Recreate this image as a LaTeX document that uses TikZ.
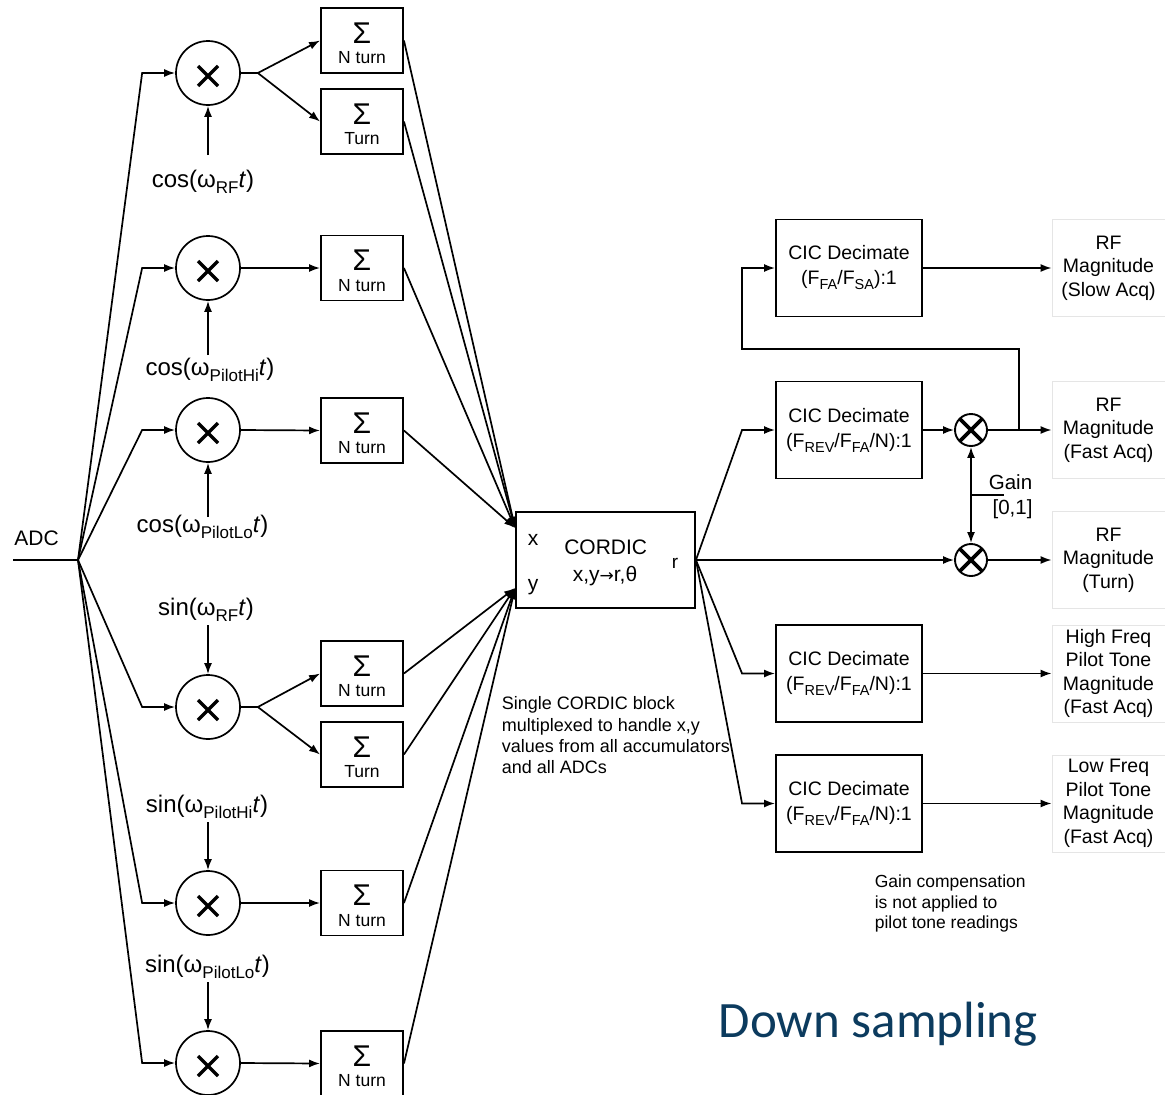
\documentclass[tikz,border=0pt]{standalone}
\usepackage{fontspec}
\setmainfont{Liberation Sans}
\newfontfamily\dsfont{Carlito}
\newfontfamily\arrfont{DejaVu Sans}
\usetikzlibrary{arrows.meta,calc}
\definecolor{dsblue}{RGB}{12,59,94}
\newcommand\sbl[1]{\raisebox{-6pt}{\fontsize{17}{17}\selectfont #1}}
\newcommand\sbs[1]{\raisebox{-5pt}{\fontsize{14.5}{14.5}\selectfont #1}}
\newcommand\sumblk[3]{%
  \node[sumbox] (#1) at (362,#2) {};
  \node[sig] (#1g) at (362,#2-7.5) {Σ};
  \node[sumlab] (#1t) at (362,#2+17.5) {#3};}
\begin{document}
\begin{tikzpicture}[x=1pt,y=-1pt,line width=1.7pt,
  >={Latex[length=11pt,width=8pt]},
  mult/.style={circle,draw,line width=1.7pt,minimum size=64pt,inner sep=0,
    path picture={\draw[line width=3.4pt]
      ([shift={(-10pt,-13pt)}]path picture bounding box.center) -- ([shift={(10pt,7pt)}]path picture bounding box.center)
      ([shift={(-10pt,7pt)}]path picture bounding box.center) -- ([shift={(10pt,-13pt)}]path picture bounding box.center);}},
  smult/.style={circle,draw,line width=1.9pt,minimum size=32pt,inner sep=0,
    path picture={\draw[line width=3.6pt]
      ([shift={(-11pt,-11pt)}]path picture bounding box.center) -- ([shift={(11pt,11pt)}]path picture bounding box.center)
      ([shift={(-11pt,11pt)}]path picture bounding box.center) -- ([shift={(11pt,-11pt)}]path picture bounding box.center);}},
  sumbox/.style={draw,line width=1.9pt,minimum width=82pt,minimum height=65pt,inner sep=0},
  sig/.style={font=\fontsize{30}{30}\selectfont,inner sep=0},
  sumlab/.style={font=\fontsize{17.5}{17.5}\selectfont,inner sep=0},
  lbl/.style={font=\fontsize{24}{24}\selectfont,inner sep=0,anchor=base},
  txt/.style={font=\fontsize{21}{21}\selectfont,inner sep=0,anchor=base},
  cbox/.style={draw,line width=1.9pt,inner sep=0},
  cic/.style={draw,line width=1.9pt,minimum width=146pt,minimum height=97pt,align=center,
    font=\fontsize{19.5}{25}\selectfont,inner sep=0},
  outlab/.style={draw=black!10,line width=0.8pt,minimum width=113pt,minimum height=97pt,align=center,
    font=\fontsize{19.5}{23.5}\selectfont,inner sep=0},
  note/.style={align=left,font=\fontsize{18}{21.3}\selectfont,inner sep=0,anchor=north west},
  notetwo/.style={align=left,font=\fontsize{17.5}{20.7}\selectfont,inner sep=0,anchor=north west}]
\useasboundingbox (0,0) rectangle (1165,1095);

% ADC input
\node[txt] (adc) at (36.5,545) {ADC};
\coordinate (adcin) at (13,560);
\coordinate (br) at (78,560);
\draw (adcin) -- (br);

% multipliers
\node[mult] (m1) at (208,73) {};
\node[mult] (m2) at (208,268) {};
\node[mult] (m3) at (208,430) {};
\node[mult] (m4) at (208,707) {};
\node[mult] (m5) at (208,903) {};
\node[mult] (m6) at (208,1063) {};

% oscillator labels
\node[lbl] (c1) at (203,187) {cos(ω\sbl{RF}\textit{t})};
\node[lbl] (c2) at (210,375) {cos(ω\sbl{PilotHi}\textit{t})};
\node[lbl] (c3) at (202.5,532) {cos(ω\sbl{PilotLo}\textit{t})};
\node[lbl] (c4) at (206,615) {sin(ω\sbl{RF}\textit{t})};
\node[lbl] (c5) at (207,812) {sin(ω\sbl{PilotHi}\textit{t})};
\node[lbl] (c6) at (207.5,972) {sin(ω\sbl{PilotLo}\textit{t})};
\coordinate (a1) at (208,155);
\coordinate (a2) at (208,355);
\coordinate (a3) at (208,517);
\coordinate (a4) at (208,625);
\coordinate (a5) at (208,822);
\coordinate (a6) at (208,982);
\draw[->] (a1) -- (m1.south);
\draw[->] (a2) -- (m2.south);
\draw[->] (a3) -- (m3.south);
\draw[->] (a4) -- (m4.north);
\draw[->] (a5) -- (m5.north);
\draw[->] (a6) -- (m6.north);

% accumulators
\sumblk{s1}{40.5}{N turn}
\sumblk{s2}{121.5}{Turn}
\sumblk{s3}{268}{N turn}
\sumblk{s4}{430.5}{N turn}
\sumblk{s5}{673.5}{N turn}
\sumblk{s6}{754.5}{Turn}
\sumblk{s7}{903}{N turn}
\sumblk{s8}{1063.5}{N turn}

% ADC fan-out
\foreach \m in {m1,m2,m3,m4,m5,m6}
  \draw[->] (br) -- ([xshift=-33pt]\m.west) -- (\m.west);

% multiplier outputs
\draw (m1.east) -- ++(17,0) coordinate (f1);
\draw[->] (f1) -- (s1.west);
\draw[->] (f1) -- (s2.west);
\draw[->] (m2.east) -- (s3.west);
\draw[->] (m3.east) -- (s4.west);
\draw (m4.east) -- ++(17,0) coordinate (f4);
\draw[->] (f4) -- (s5.west);
\draw[->] (f4) -- (s6.west);
\draw[->] (m5.east) -- (s7.west);
\draw[->] (m6.east) -- (s8.west);

% CORDIC
\node[cbox,minimum width=179pt,minimum height=96pt] (cord) at (605.5,560) {};
\node[txt] (cordA) at (605.7,554) {CORDIC};
\node[txt] (cordB) at (605,581) {x,y{\arrfont\fontsize{17}{17}\selectfont →}r,θ};
\node[txt] (px) at (533,545) {x};
\node[txt] (py) at (533,590) {y};
\node[txt,font=\fontsize{19}{19}\selectfont] (pr) at (675,568) {r};
\coordinate (xin) at ([yshift=32pt]cord.west);
\coordinate (yin) at ([yshift=-28pt]cord.west);
\foreach \s in {s1,s2,s3,s4} \draw[->] (\s.east) -- (xin);
\foreach \s in {s5,s6,s7,s8} \draw[->] (\s.east) -- (yin);

\node[note] (n1) at (501,696) {Single CORDIC block\\multiplexed to handle x,y\\values from all accumulators\\and all ADCs};

% decimators
\node[cic] (k1) at (849,268) {CIC Decimate\\(F\sbs{FA}/F\sbs{SA}):1};
\node[cic] (k2) at (849,430) {CIC Decimate\\(F\sbs{REV}/F\sbs{FA}/N):1};
\node[cic] (k4) at (849,673.5) {CIC Decimate\\(F\sbs{REV}/F\sbs{FA}/N):1};
\node[cic] (k5) at (849,803.5) {CIC Decimate\\(F\sbs{REV}/F\sbs{FA}/N):1};
\node[smult] (x1) at (971,430) {};
\node[smult] (x2) at (971,560) {};

% outputs
\node[outlab] (o1) at (1108.5,268) {RF\\Magnitude\\(Slow Acq)};
\node[outlab] (o2) at (1108.5,430) {RF\\Magnitude\\(Fast Acq)};
\node[outlab] (o3) at (1108.5,560) {RF\\Magnitude\\(Turn)};
\node[outlab] (o4) at (1108.5,673.5) {High Freq\\Pilot Tone\\Magnitude\\(Fast Acq)};
\node[outlab] (o5) at (1108.5,803.5) {Low Freq\\Pilot Tone\\Magnitude\\(Fast Acq)};

% CORDIC outputs
\draw[->] (cord.east) -- ([xshift=-33pt]k2.west) -- (k2.west);
\draw[->] (cord.east) -- (x2.west);
\draw[->] (cord.east) -- ([xshift=-33pt]k4.west) -- (k4.west);
\draw[->] (cord.east) -- ([xshift=-33pt]k5.west) -- (k5.west);
\draw[->] (k2.east) -- (x1.west);
\draw[->] (x1.east) -- (o2.west);
\coordinate (fb) at (1019,430);
\draw[->] (fb) |- ([xshift=-33pt,yshift=-81pt]k1.west) -- ([xshift=-33pt]k1.west) -- (k1.west);
\draw[->] (k1.east) -- (o1.west);
\draw[->] (x2.east) -- (o3.west);
\draw[->] (k4.east) -- (o4.west);
\draw[->] (k5.east) -- (o5.west);

% gain
\draw[<->] (x1.south) -- (x2.north);
\coordinate (gm) at ($(x1)!0.5!(x2)$);
\coordinate (gt) at ([xshift=33pt]gm);
\draw (gm) -- (gt);
\node[txt,font=\fontsize{20.5}{20.5}\selectfont] (gl) at (1010.5,489) {Gain};
\node[txt,font=\fontsize{20.5}{20.5}\selectfont] (gr) at (1012.5,514) {[0,1]};

\node[notetwo] (n2) at (874,874) {Gain compensation\\is not applied to\\pilot tone readings};

\node[anchor=base west,inner sep=0,font=\dsfont\fontsize{51}{51}\selectfont,text=dsblue] (ds) at (718,1037) {Down sampling};
\end{tikzpicture}
\end{document}
